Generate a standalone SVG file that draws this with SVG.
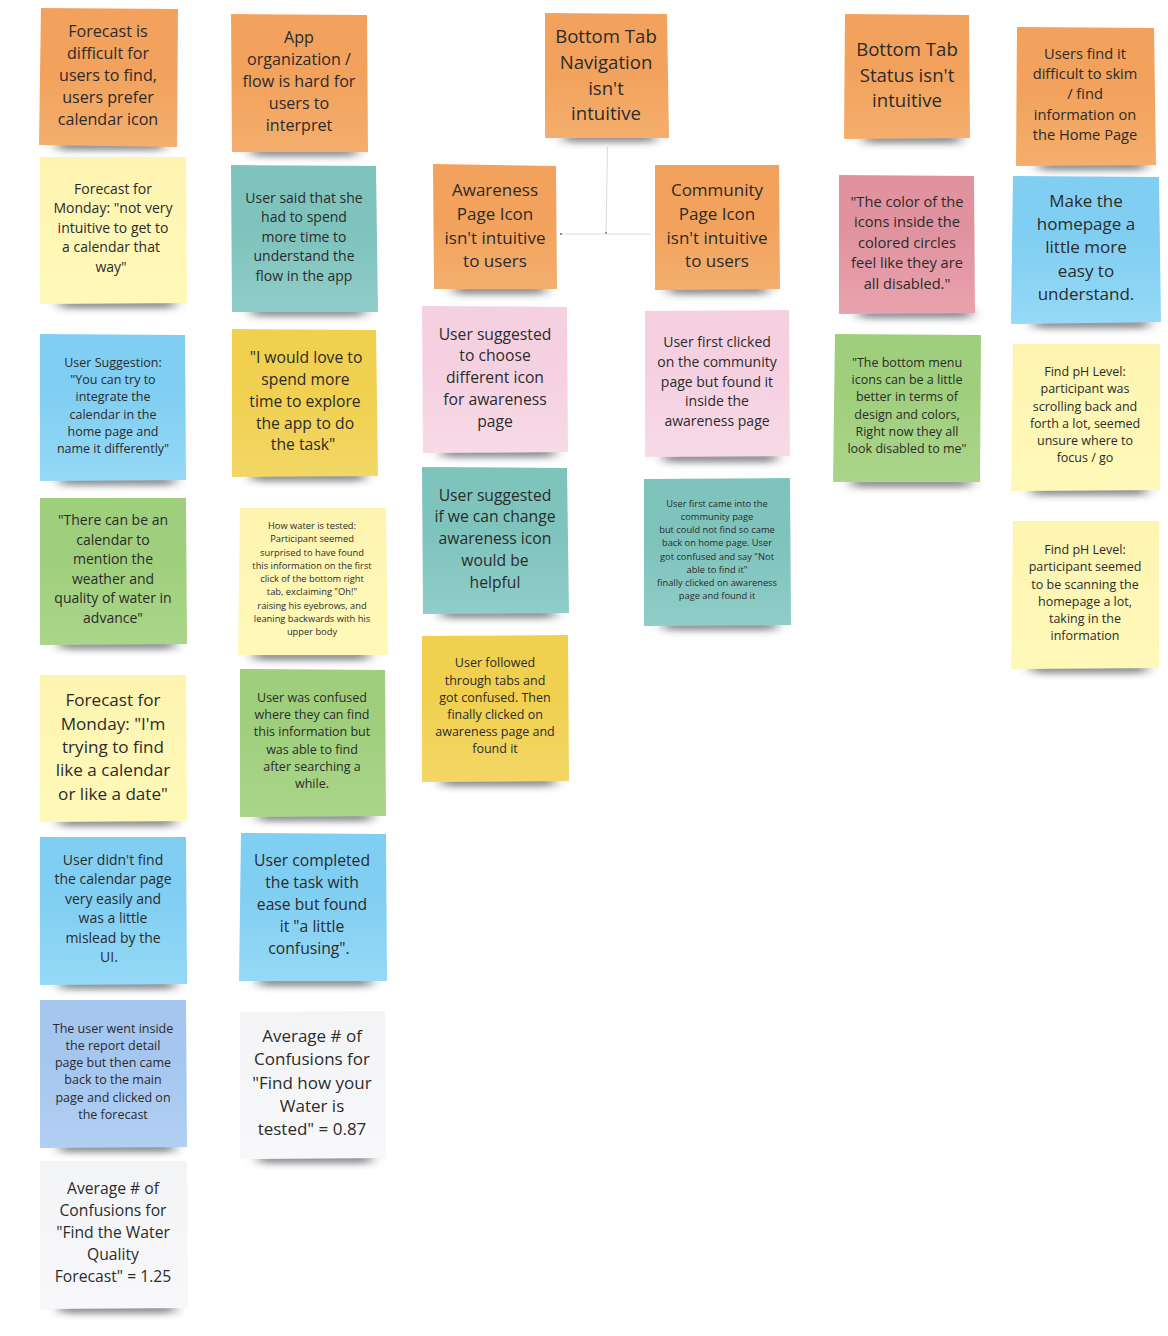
<svg xmlns="http://www.w3.org/2000/svg" width="1168" height="1336" viewBox="0 0 1168 1336">
<style>
text{font-family:"Open Sans","Noto Sans","DejaVu Sans",sans-serif;fill:#2b2b2b;text-anchor:middle}
.sh{fill:#2a2d34;opacity:.6;filter:url(#b)}
.orange{fill:url(#go)}.yellow{fill:url(#gy)}.teal{fill:url(#gt)}.pink{fill:url(#gp)}.red{fill:url(#gr)}.green{fill:url(#gg)}.blue{fill:url(#gb)}.peri{fill:url(#gv)}.gray{fill:url(#ga)}.gold{fill:url(#gd)}
.f19{font-size:18.6px}.f18{font-size:17.1px}.f17{font-size:17px}.f16{font-size:16.1px}.f15{font-size:15.7px}.f147{font-size:14.65px}.f14{font-size:14px}.f12{font-size:12.5px}.f9{font-size:9.3px}
.c{fill:none;stroke:#dcdcde;stroke-width:1}
</style>
<defs>
<filter id="b" x="-30%" y="-400%" width="160%" height="900%"><feGaussianBlur stdDeviation="7 3.6"/></filter>
<marker id="tick" markerWidth="3" markerHeight="3" refX="1" refY="1.5" markerUnits="userSpaceOnUse"><rect x="0" y="0.5" width="2" height="2" fill="#8a8a8c"/></marker>
<linearGradient id="go" x1="0" y1="0" x2="0" y2="1"><stop offset="0.45" stop-color="#f2a25c"/><stop offset="1" stop-color="#f4ae6d"/></linearGradient>
<linearGradient id="gy" x1="0" y1="0" x2="0" y2="1"><stop offset="0" stop-color="#fdf4b0"/><stop offset="1" stop-color="#fff9b9"/></linearGradient>
<linearGradient id="gt" x1="0" y1="0" x2="0" y2="1"><stop offset="0.45" stop-color="#7fc3bd"/><stop offset="1" stop-color="#90cdc8"/></linearGradient>
<linearGradient id="gp" x1="0" y1="0" x2="0" y2="1"><stop offset="0.4" stop-color="#f5d0e0"/><stop offset="1" stop-color="#f8dae7"/></linearGradient>
<linearGradient id="gr" x1="0" y1="0" x2="0" y2="1"><stop offset="0.4" stop-color="#e0929f"/><stop offset="1" stop-color="#e9a3ae"/></linearGradient>
<linearGradient id="gg" x1="0" y1="0" x2="0" y2="1"><stop offset="0.4" stop-color="#9fcf7c"/><stop offset="1" stop-color="#abd58a"/></linearGradient>
<linearGradient id="gb" x1="0" y1="0" x2="0" y2="1"><stop offset="0.4" stop-color="#80cef1"/><stop offset="1" stop-color="#95d9f7"/></linearGradient>
<linearGradient id="gv" x1="0" y1="0" x2="0" y2="1"><stop offset="0.4" stop-color="#a5c6ef"/><stop offset="1" stop-color="#b2cff3"/></linearGradient>
<linearGradient id="ga" x1="0" y1="0" x2="0" y2="1"><stop offset="0" stop-color="#f3f4f6"/><stop offset="1" stop-color="#f8f8fa"/></linearGradient>
<linearGradient id="gd" x1="0" y1="0" x2="0" y2="1"><stop offset="0.4" stop-color="#f0d04e"/><stop offset="1" stop-color="#f3d766"/></linearGradient>
</defs>
<g id="connectors">
<path class="c" d="M607.5 147L606 233" marker-end="url(#tick)"/>
<path class="c" d="M561 234L651 234" marker-start="url(#tick)"/>
</g>
<g id="n1"><rect class="sh" x="58" y="141" width="105" height="9"/><polygon class="orange" points="41,8 178,9 177,147 39,145"/><text class="f16" x="108"><tspan x="108" y="37">Forecast is</tspan><tspan x="108" y="59">difficult for</tspan><tspan x="108" y="81">users to find,</tspan><tspan x="108" y="103">users prefer</tspan><tspan x="108" y="125">calendar icon</tspan></text></g>
<g id="n2"><rect class="sh" x="60" y="299" width="114" height="9"/><polygon class="yellow" points="40,157 186,157 187,303 40,304"/><text class="f14" x="113"><tspan x="113" y="194">Forecast for</tspan><tspan x="113" y="213">Monday: "not very</tspan><tspan x="113" y="233">intuitive to get to</tspan><tspan x="111" y="252">a calendar that</tspan><tspan x="111" y="272">way"</tspan></text></g>
<g id="n3"><rect class="sh" x="60" y="476" width="114" height="9"/><polygon class="blue" points="40,334 185,335 186,480 40,481"/><text class="f12" x="113"><tspan x="113" y="367">User Suggestion:</tspan><tspan x="113" y="384">"You can try to</tspan><tspan x="113" y="401">integrate the</tspan><tspan x="113" y="419">calendar in the</tspan><tspan x="113" y="436">home page and</tspan><tspan x="113" y="453">name it differently"</tspan></text></g>
<g id="n4"><rect class="sh" x="60" y="640" width="114" height="9"/><polygon class="green" points="40,498 186,498 187,644 40,645"/><text class="f14" x="113"><tspan x="113" y="525">"There can be an</tspan><tspan x="113" y="545">calendar to</tspan><tspan x="113" y="564">mention the</tspan><tspan x="113" y="584">weather and</tspan><tspan x="113" y="603">quality of water in</tspan><tspan x="113" y="623">advance"</tspan></text></g>
<g id="n5"><rect class="sh" x="60" y="817" width="114" height="9"/><polygon class="yellow" points="40,675 186,675 187,821 40,822"/><text class="f18" x="113"><tspan x="113" y="706">Forecast for</tspan><tspan x="113" y="730">Monday: "I'm</tspan><tspan x="113" y="753">trying to find</tspan><tspan x="113" y="776">like a calendar</tspan><tspan x="113" y="800">or like a date"</tspan></text></g>
<g id="n6"><rect class="sh" x="60" y="980" width="114" height="9"/><polygon class="blue" points="40,837 186,837 187,984 40,985"/><text class="f14" x="113"><tspan x="113" y="865">User didn't find</tspan><tspan x="113" y="884">the calendar page</tspan><tspan x="113" y="904">very easily and</tspan><tspan x="113" y="923">was a little</tspan><tspan x="113" y="943">mislead by the</tspan><tspan x="109" y="962">UI.</tspan></text></g>
<g id="n7"><rect class="sh" x="60" y="1143" width="114" height="9"/><polygon class="peri" points="40,1000 186,1000 187,1147 40,1148"/><text class="f12" x="113"><tspan x="113" y="1033">The user went inside</tspan><tspan x="113" y="1050">the report detail</tspan><tspan x="113" y="1067">page but then came</tspan><tspan x="113" y="1084">back to the main</tspan><tspan x="113" y="1102">page and clicked on</tspan><tspan x="113" y="1119">the forecast</tspan></text></g>
<g id="n8"><rect class="sh" x="60" y="1304" width="114" height="9"/><polygon class="gray" points="40,1161 187,1161 188,1308 40,1309"/><text class="f15" x="113"><tspan x="113" y="1194">Average # of</tspan><tspan x="113" y="1216">Confusions for</tspan><tspan x="113" y="1238">"Find the Water</tspan><tspan x="113" y="1260">Quality</tspan><tspan x="113" y="1282">Forecast" = 1.25</tspan></text></g>

<g id="n9"><rect class="sh" x="252" y="147" width="104" height="9"/><polygon class="orange" points="231,14 367,15 368,152 232,152"/><text class="f16" x="299"><tspan x="299" y="43">App</tspan><tspan x="299" y="65">organization /</tspan><tspan x="299" y="87">flow is hard for</tspan><tspan x="299" y="109">users to</tspan><tspan x="299" y="131">interpret</tspan></text></g>
<g id="n10"><rect class="sh" x="252" y="307" width="112" height="9"/><polygon class="teal" points="231,165 376,166 378,312 232,312"/><text class="f14" x="304"><tspan x="304" y="203">User said that she</tspan><tspan x="304" y="222">had to spend</tspan><tspan x="304" y="242">more time to</tspan><tspan x="304" y="261">understand the</tspan><tspan x="304" y="281">flow in the app</tspan></text></g>
<g id="n11"><rect class="sh" x="252" y="472" width="112" height="9"/><polygon class="gold" points="232,329 376,330 378,476 232,477"/><text class="f15" x="305"><tspan x="306" y="363">"I would love to</tspan><tspan x="305.500" y="385">spend more</tspan><tspan x="305" y="407">time to explore</tspan><tspan x="305" y="429">the app to do</tspan><tspan x="303" y="450">the task"</tspan></text></g>
<g id="n12"><rect class="sh" x="254" y="651" width="114" height="9"/><polygon class="yellow" points="240,508 386,508 388,655 238,655"/><text class="f9" x="312"><tspan x="312" y="529">How water is tested:</tspan><tspan x="312" y="542">Participant seemed</tspan><tspan x="312" y="556">surprised to have found</tspan><tspan x="312" y="569">this information on the first</tspan><tspan x="312" y="582">click of the bottom right</tspan><tspan x="312" y="595">tab, exclaiming "Oh!"</tspan><tspan x="312" y="609">raising his eyebrows, and</tspan><tspan x="312" y="622">leaning backwards with his</tspan><tspan x="312" y="635">upper body</tspan></text></g>
<g id="n13"><rect class="sh" x="259" y="812" width="112" height="9"/><polygon class="green" points="240,669 385,670 386,816 240,817"/><text class="f12" x="312"><tspan x="312" y="702">User was confused</tspan><tspan x="312" y="719">where they can find</tspan><tspan x="312" y="736">this information but</tspan><tspan x="312" y="754">was able to find</tspan><tspan x="312" y="771">after searching a</tspan><tspan x="312" y="788">while.</tspan></text></g>
<g id="n14"><rect class="sh" x="259" y="977" width="112" height="9"/><polygon class="blue" points="241,833 386,834 387,981 239,981"/><text class="f15" x="312"><tspan x="312" y="866">User completed</tspan><tspan x="312" y="888">the task with</tspan><tspan x="312" y="910">ease but found</tspan><tspan x="312" y="932">it "a little</tspan><tspan x="309" y="954">confusing".</tspan></text></g>
<g id="n15"><rect class="sh" x="259" y="1154" width="112" height="9"/><polygon class="gray" points="240,1012 385,1011 386,1158 240,1159"/><text class="f17" x="312"><tspan x="312" y="1042">Average # of</tspan><tspan x="312" y="1065">Confusions for</tspan><tspan x="312" y="1089">"Find how your</tspan><tspan x="312" y="1112">Water is</tspan><tspan x="312" y="1135">tested" = 0.87</tspan></text></g>

<g id="n16"><rect class="sh" x="564" y="133" width="91" height="9"/><polygon class="orange" points="545,13 667,14 669,138 545,138"/><text class="f19" x="606"><tspan x="606" y="43">Bottom Tab</tspan><tspan x="606" y="69">Navigation</tspan><tspan x="606" y="95">isn't</tspan><tspan x="606" y="120">intuitive</tspan></text></g>
<g id="n17"><rect class="sh" x="454" y="285" width="91" height="9"/><polygon class="orange" points="433,164 556,166 557,289 434,289"/><text class="f17" x="495"><tspan x="495" y="196">Awareness</tspan><tspan x="495" y="220">Page Icon</tspan><tspan x="495" y="244">isn't intuitive</tspan><tspan x="495" y="267">to users</tspan></text></g>
<g id="n18"><rect class="sh" x="669" y="285" width="98" height="9"/><polygon class="orange" points="655,165 779,165 780,289 655,290"/><text class="f17" x="717"><tspan x="717" y="196">Community</tspan><tspan x="717" y="220">Page Icon</tspan><tspan x="717" y="244">isn't intuitive</tspan><tspan x="717" y="267">to users</tspan></text></g>
<g id="n19"><rect class="sh" x="442" y="448" width="112" height="9"/><polygon class="pink" points="422,306 567,307 568,452 423,453"/><text class="f15" x="495"><tspan x="495" y="340">User suggested</tspan><tspan x="495" y="361">to choose</tspan><tspan x="495" y="383">different icon</tspan><tspan x="495" y="405">for awareness</tspan><tspan x="495" y="427">page</tspan></text></g>
<g id="n20"><rect class="sh" x="442" y="609" width="112" height="9"/><polygon class="teal" points="422,467 567,468 569,613 423,614"/><text class="f15" x="495"><tspan x="495" y="501">User suggested</tspan><tspan x="495" y="522">if we can change</tspan><tspan x="495" y="544">awareness icon</tspan><tspan x="495" y="566">would be</tspan><tspan x="495" y="588">helpful</tspan></text></g>
<g id="n21"><rect class="sh" x="442" y="777" width="112" height="9"/><polygon class="gold" points="422,636 568,635 569,781 422,782"/><text class="f12" x="495"><tspan x="495" y="667">User followed</tspan><tspan x="495" y="685">through tabs and</tspan><tspan x="495" y="702">got confused. Then</tspan><tspan x="495" y="719">finally clicked on</tspan><tspan x="495" y="736">awareness page and</tspan><tspan x="495" y="753">found it</tspan></text></g>
<g id="n22"><rect class="sh" x="664" y="453" width="112" height="9"/><polygon class="pink" points="645,311 789,310 790,456 645,457"/><text class="f14" x="717"><tspan x="717" y="347">User first clicked</tspan><tspan x="717" y="367">on the community</tspan><tspan x="717" y="387">page but found it</tspan><tspan x="717" y="406">inside the</tspan><tspan x="717" y="426">awareness page</tspan></text></g>
<g id="n23"><rect class="sh" x="664" y="621" width="112" height="9"/><polygon class="teal" points="644,479 790,478 791,625 644,626"/><text class="f9" x="717"><tspan x="717" y="507">User first came into the</tspan><tspan x="717" y="520">community page</tspan><tspan x="717" y="533">but could not find so came</tspan><tspan x="717" y="546">back on home page. User</tspan><tspan x="717" y="560">got confused and say "Not</tspan><tspan x="717" y="573">able to find it"</tspan><tspan x="717" y="586">finally clicked on awareness</tspan><tspan x="717" y="599">page and found it</tspan></text></g>

<g id="n24"><rect class="sh" x="864" y="134" width="96" height="9"/><polygon class="orange" points="845,14 969,15 970,138 844,139"/><text class="f19" x="907"><tspan x="907" y="56">Bottom Tab</tspan><tspan x="907" y="82">Status isn't</tspan><tspan x="907" y="107">intuitive</tspan></text></g>
<g id="n25"><rect class="sh" x="859" y="309" width="112" height="9"/><polygon class="red" points="839,175 974,176 975,313 839,314"/><text class="f147" x="907"><tspan x="907" y="207">"The color of the</tspan><tspan x="907" y="227">icons inside the</tspan><tspan x="907" y="248">colored circles</tspan><tspan x="907" y="268">feel like they are</tspan><tspan x="907" y="289">all disabled."</tspan></text></g>
<g id="n26"><rect class="sh" x="852" y="478" width="118" height="9"/><polygon class="green" points="835,334 981,335 980,482 833,482"/><text class="f12" x="907"><tspan x="907" y="367">"The bottom menu</tspan><tspan x="907" y="384">icons can be a little</tspan><tspan x="907" y="401">better in terms of</tspan><tspan x="907" y="419">design and colors,</tspan><tspan x="907" y="436">Right now they all</tspan><tspan x="907" y="453">look disabled to me"</tspan></text></g>
<g id="n27"><rect class="sh" x="1039" y="161" width="106" height="9"/><polygon class="orange" points="1017,27 1154,28 1156,165 1016,166"/><text class="f147" x="1085"><tspan x="1085" y="59">Users find it</tspan><tspan x="1085" y="79">difficult to skim</tspan><tspan x="1085" y="99">/ find</tspan><tspan x="1085" y="120">information on</tspan><tspan x="1085" y="140">the Home Page</tspan></text></g>
<g id="n28"><rect class="sh" x="1034" y="319" width="114" height="9"/><polygon class="blue" points="1013,176 1159,177 1161,322 1011,324"/><text class="f17" x="1086"><tspan x="1086" y="207">Make the</tspan><tspan x="1086" y="230">homepage a</tspan><tspan x="1086" y="253">little more</tspan><tspan x="1086" y="277">easy to</tspan><tspan x="1086" y="300">understand.</tspan></text></g>
<g id="n29"><rect class="sh" x="1032" y="486" width="114" height="9"/><polygon class="yellow" points="1013,344 1160,344 1160,490 1011,491"/><text class="f12" x="1085"><tspan x="1085" y="376">Find pH Level:</tspan><tspan x="1085" y="393">participant was</tspan><tspan x="1085" y="411">scrolling back and</tspan><tspan x="1085" y="428">forth a lot, seemed</tspan><tspan x="1085" y="445">unsure where to</tspan><tspan x="1085" y="462">focus / go</tspan></text></g>
<g id="n30"><rect class="sh" x="1032" y="664" width="114" height="9"/><polygon class="yellow" points="1013,521 1159,521 1159,668 1011,669"/><text class="f12" x="1085"><tspan x="1085" y="554">Find pH Level:</tspan><tspan x="1085" y="571">participant seemed</tspan><tspan x="1085" y="589">to be scanning the</tspan><tspan x="1085" y="606">homepage a lot,</tspan><tspan x="1085" y="623">taking in the</tspan><tspan x="1085" y="640">information</tspan></text></g>
</svg>
